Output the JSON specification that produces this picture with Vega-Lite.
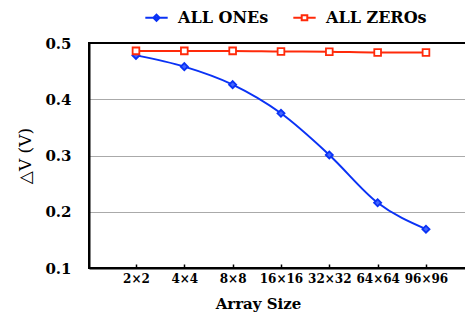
{
  "$schema": "https://vega.github.io/schema/vega-lite/v6.json",
  "width": 377,
  "height": 225,
  "autosize": "none",
  "padding": {"left": 89, "top": 43, "right": 0, "bottom": 59},
  "config": {
    "view": {"stroke": "black", "strokeWidth": 2},
    "font": "DejaVu Serif"
  },
  "data": {
    "values": [
      {"size": "2×2", "series": "ALL ONEs", "v": 0.478},
      {"size": "4×4", "series": "ALL ONEs", "v": 0.458},
      {"size": "8×8", "series": "ALL ONEs", "v": 0.426},
      {"size": "16×16", "series": "ALL ONEs", "v": 0.375},
      {"size": "32×32", "series": "ALL ONEs", "v": 0.301},
      {"size": "64×64", "series": "ALL ONEs", "v": 0.216},
      {"size": "96×96", "series": "ALL ONEs", "v": 0.169},
      {"size": "2×2", "series": "ALL ZEROs", "v": 0.486},
      {"size": "4×4", "series": "ALL ZEROs", "v": 0.486},
      {"size": "8×8", "series": "ALL ZEROs", "v": 0.486},
      {"size": "16×16", "series": "ALL ZEROs", "v": 0.485},
      {"size": "32×32", "series": "ALL ZEROs", "v": 0.4845},
      {"size": "64×64", "series": "ALL ZEROs", "v": 0.483},
      {"size": "96×96", "series": "ALL ZEROs", "v": 0.483}
    ]
  },
  "encoding": {
    "x": {
      "field": "size",
      "type": "ordinal",
      "sort": ["2×2", "4×4", "8×8", "16×16", "32×32", "64×64", "96×96"],
      "scale": {"type": "point", "padding": 0.9, "align": 0.54},
      "axis": {
        "title": "Array Size",
        "titleFont": "DejaVu Serif",
        "titleFontSize": 15,
        "titleFontWeight": "bold",
        "titleColor": "black",
        "titlePadding": 12,
        "titleX": 169,
        "titleAnchor": "middle",
        "labelFont": "DejaVu Serif",
        "labelFontSize": 12,
        "labelFontWeight": "bold",
        "labelColor": "black",
        "labelAngle": 0,
        "labelPadding": 9,
        "domainColor": "black",
        "domainWidth": 2,
        "tickColor": "black",
        "tickWidth": 1.5,
        "tickSize": -4,
        "grid": false
      }
    },
    "y": {
      "field": "v",
      "type": "quantitative",
      "scale": {"domain": [0.1, 0.5], "nice": false, "zero": false},
      "axis": {
        "values": [0.1, 0.2, 0.3, 0.4, 0.5],
        "format": ".1f",
        "title": "△V (V)",
        "titleFont": "DejaVu Serif",
        "titleFontSize": 17,
        "titleFontWeight": "normal",
        "titleColor": "black",
        "titlePadding": 10,
        "labelFont": "DejaVu Serif",
        "labelFontSize": 15,
        "labelFontWeight": "bold",
        "labelColor": "black",
        "labelPadding": 18,
        "ticks": false,
        "domainColor": "black",
        "domainWidth": 2,
        "gridColor": "#aaaaaa",
        "gridWidth": 1,
        "gridOpacity": {"condition": {"test": "datum.value < 0.15 || datum.value > 0.45", "value": 0}, "value": 1}
      }
    },
    "color": {
      "field": "series",
      "type": "nominal",
      "scale": {"domain": ["ALL ONEs", "ALL ZEROs"], "range": ["#0a32f5", "#ff2a0a"]},
      "legend": {
        "title": null,
        "orient": "none",
        "direction": "horizontal",
        "legendX": 55,
        "legendY": -38,
        "labelFont": "DejaVu Serif",
        "labelFontSize": 16,
        "labelFontWeight": "bold",
        "labelColor": "black",
        "labelOffset": 9,
        "columnPadding": 20,
        "symbolSize": 500,
        "symbolStrokeWidth": 2,
        "encode": {
          "symbols": {
            "update": {
              "shape": {"signal": "datum.value == 'ALL ONEs' ? 'M-1,0L1,0M0,-0.28L0.28,0L0,0.28L-0.28,0Z' : 'M-1,0L-0.25,0M0.25,0L1,0M-0.25,-0.22L0.25,-0.22L0.25,0.22L-0.25,0.22Z'"},
              "fill": {"signal": "datum.value == 'ALL ONEs' ? '#3355ff' : 'white'"},
              "fillOpacity": {"value": 1},
              "stroke": {"signal": "datum.value == 'ALL ONEs' ? '#0a32f5' : '#ff2a0a'"},
              "strokeWidth": {"value": 2}
            }
          }
        }
      }
    }
  },
  "layer": [
    {"mark": {"type": "line", "interpolate": "monotone", "strokeWidth": 2}},
    {
      "transform": [{"filter": "datum.series == 'ALL ONEs'"}],
      "mark": {"type": "point", "shape": "diamond", "size": 50, "strokeWidth": 1.8, "opacity": 1, "filled": false, "fill": "#4466ff"}
    },
    {
      "transform": [{"filter": "datum.series == 'ALL ZEROs'"}],
      "mark": {"type": "point", "shape": "square", "size": 45, "strokeWidth": 1.8, "opacity": 1, "filled": false, "fill": "white"}
    }
  ]
}
